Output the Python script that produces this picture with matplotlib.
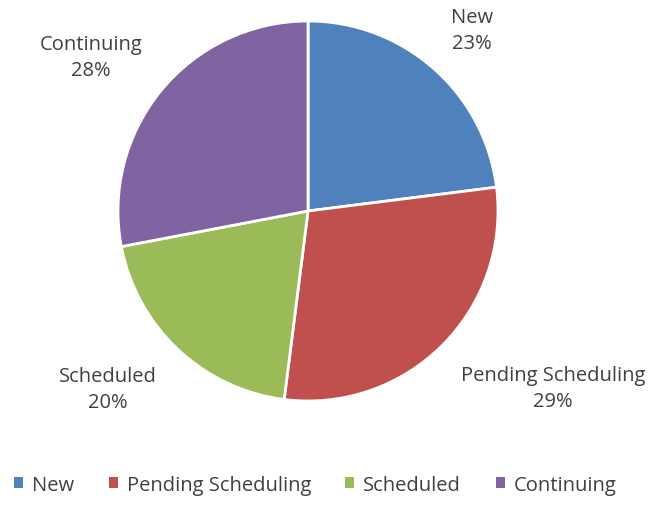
import matplotlib
matplotlib.use("Agg")
import matplotlib.pyplot as plt
from matplotlib.patches import Rectangle

categories = ["New", "Pending Scheduling", "Scheduled", "Continuing"]
values = [23, 29, 20, 28]
colors = ["#4F81BD", "#C0504D", "#9BBB59", "#8064A2"]
label_pos_px = [(472, 31), (553, 389), (108, 390), (91, 58)]

W, H = 654, 506
plt.rcParams['font.family'] = ['Open Sans', 'DejaVu Sans']
fig = plt.figure(figsize=(W / 100, H / 100), dpi=100)
fig.patch.set_facecolor("white")

cx, cy, r = 308, 212, 190
ax = fig.add_axes([(cx - r) / W, (H - cy - r) / H, 2 * r / W, 2 * r / H])
ax.pie(values, colors=colors, startangle=90, counterclock=False,
       wedgeprops=dict(edgecolor="white", linewidth=2), radius=1)
ax.set_xlim(-1, 1)
ax.set_ylim(-1, 1)
ax.set_aspect("equal")
ax.axis("off")

total = sum(values)
for cat, v, (px, py) in zip(categories, values, label_pos_px):
    fig.text(px / W, 1 - py / H, f"{cat}\n{round(100 * v / total)}%",
             ha="center", va="center", fontsize=14.5, color="#404040",
             linespacing=1.45)

handles = [Rectangle((0, 0), 1, 1, facecolor=c, edgecolor="none") for c in colors]
fig.legend(handles, categories, loc="center", bbox_to_anchor=(0.482, 1 - 486 / H),
           ncol=4, frameon=False, fontsize=14.5, handlelength=0.45, handleheight=0.45,
           handletextpad=0.45, columnspacing=1.7, labelcolor="#404040")

fig.savefig("out.png", dpi=100, facecolor="white")
